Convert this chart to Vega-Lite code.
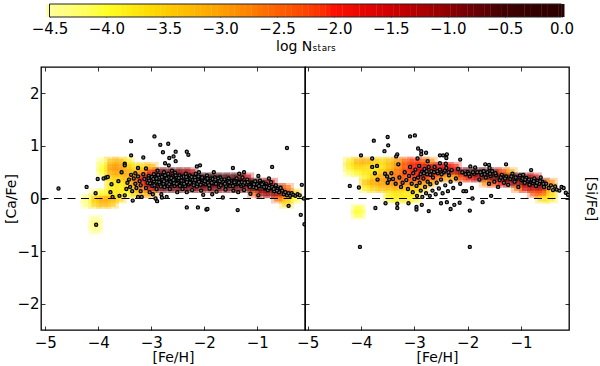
{"$schema":"https://vega.github.io/schema/vega-lite/v6.json","padding":{"left":4,"top":3,"right":0,"bottom":0},"autosize":{"type":"pad"},"background":"white","spacing":50,"bounds":"flush",
"config":{"font":"DejaVu Sans","view":{"stroke":"black","strokeWidth":1.3},"axis":{"grid":false,"domain":false,"labelFlush":false,"tickColor":"black","tickSize":-4,"tickWidth":0.8,"labelFont":"DejaVu Sans","labelFontSize":15,"labelColor":"black","titleFont":"DejaVu Sans","titleFontSize":14,"titleFontWeight":"normal","titleColor":"black"}},
"datasets":{
"bar":[{"logN":-4.5},{"logN":-4.45},{"logN":-4.4},{"logN":-4.35},{"logN":-4.3},{"logN":-4.25},{"logN":-4.2},{"logN":-4.15},{"logN":-4.1},{"logN":-4.05},{"logN":-4},{"logN":-3.95},{"logN":-3.9},{"logN":-3.85},{"logN":-3.8},{"logN":-3.75},{"logN":-3.7},{"logN":-3.65},{"logN":-3.6},{"logN":-3.55},{"logN":-3.5},{"logN":-3.45},{"logN":-3.4},{"logN":-3.35},{"logN":-3.3},{"logN":-3.25},{"logN":-3.2},{"logN":-3.15},{"logN":-3.1},{"logN":-3.05},{"logN":-3},{"logN":-2.95},{"logN":-2.9},{"logN":-2.85},{"logN":-2.8},{"logN":-2.75},{"logN":-2.7},{"logN":-2.65},{"logN":-2.6},{"logN":-2.55},{"logN":-2.5},{"logN":-2.45},{"logN":-2.4},{"logN":-2.35},{"logN":-2.3},{"logN":-2.25},{"logN":-2.2},{"logN":-2.15},{"logN":-2.1},{"logN":-2.05},{"logN":-2},{"logN":-1.95},{"logN":-1.9},{"logN":-1.85},{"logN":-1.8},{"logN":-1.75},{"logN":-1.7},{"logN":-1.65},{"logN":-1.6},{"logN":-1.55},{"logN":-1.5},{"logN":-1.45},{"logN":-1.4},{"logN":-1.35},{"logN":-1.3},{"logN":-1.25},{"logN":-1.2},{"logN":-1.15},{"logN":-1.1},{"logN":-1.05},{"logN":-1},{"logN":-0.95},{"logN":-0.9},{"logN":-0.85},{"logN":-0.8},{"logN":-0.75},{"logN":-0.7},{"logN":-0.65},{"logN":-0.6},{"logN":-0.55},{"logN":-0.5},{"logN":-0.45},{"logN":-0.4},{"logN":-0.35},{"logN":-0.3},{"logN":-0.25},{"logN":-0.2},{"logN":-0.15},{"logN":-0.1},{"logN":-0.05},{"logN":0}],
"barFrame":[{"lo":-4.5,"hi":0}],
"caCells":[{"feh":-4.2,"ab":0,"logN":-4.3},{"feh":-4.2,"ab":-0.1,"logN":-4.3},{"feh":-4.05,"ab":0,"logN":-3.4},{"feh":-4.05,"ab":-0.1,"logN":-3.5},{"feh":-4.05,"ab":0.1,"logN":-4.3},{"feh":-4.05,"ab":-0.5,"logN":-4.2},{"feh":-4.05,"ab":-0.6,"logN":-4.4},{"feh":-4.05,"ab":-0.4,"logN":-4.4},{"feh":-3.9,"ab":0,"logN":-3.0},{"feh":-3.9,"ab":-0.1,"logN":-3.2},{"feh":-3.9,"ab":0.1,"logN":-4},{"feh":-3.9,"ab":0.6,"logN":-4.0},{"feh":-3.9,"ab":0.5,"logN":-4.0},{"feh":-3.9,"ab":0.7,"logN":-4.3},{"feh":-3.75,"ab":0,"logN":-3.1},{"feh":-3.75,"ab":-0.1,"logN":-3.4},{"feh":-3.75,"ab":0.1,"logN":-3.8},{"feh":-3.75,"ab":0.2,"logN":-3.8},{"feh":-3.75,"ab":0.3,"logN":-3.8},{"feh":-3.75,"ab":0.4,"logN":-3.5},{"feh":-3.75,"ab":0.5,"logN":-3.1},{"feh":-3.75,"ab":0.6,"logN":-2.9},{"feh":-3.75,"ab":0.7,"logN":-3.3},{"feh":-3.6,"ab":0,"logN":-3.6},{"feh":-3.6,"ab":0.1,"logN":-3.7},{"feh":-3.6,"ab":0.2,"logN":-3.8},{"feh":-3.6,"ab":0.3,"logN":-3.8},{"feh":-3.6,"ab":0.4,"logN":-3.4},{"feh":-3.6,"ab":0.5,"logN":-3},{"feh":-3.6,"ab":0.6,"logN":-2.9},{"feh":-3.6,"ab":0.7,"logN":-3.2},{"feh":-3.45,"ab":0.1,"logN":-4},{"feh":-3.45,"ab":0.2,"logN":-3.7},{"feh":-3.45,"ab":0.3,"logN":-3.6},{"feh":-3.45,"ab":0.4,"logN":-3.2},{"feh":-3.45,"ab":0.5,"logN":-3.1},{"feh":-3.45,"ab":0.6,"logN":-3.3},{"feh":-3.45,"ab":0.7,"logN":-3.8},{"feh":-3.3,"ab":0.1,"logN":-3.5},{"feh":-3.3,"ab":0.2,"logN":-3.2},{"feh":-3.3,"ab":0.3,"logN":-2.8},{"feh":-3.3,"ab":0.4,"logN":-2.5},{"feh":-3.3,"ab":0.5,"logN":-3.2},{"feh":-3.3,"ab":0.6,"logN":-3.7},{"feh":-3.15,"ab":0.1,"logN":-3.2},{"feh":-3.15,"ab":0.2,"logN":-2.6},{"feh":-3.15,"ab":0.3,"logN":-1.8},{"feh":-3.15,"ab":0.4,"logN":-1.6},{"feh":-3.15,"ab":0.5,"logN":-2.8},{"feh":-3.15,"ab":0.6,"logN":-3.6},{"feh":-3.0,"ab":0.1,"logN":-3},{"feh":-3.0,"ab":0.2,"logN":-1.4},{"feh":-3.0,"ab":0.3,"logN":-0.7},{"feh":-3.0,"ab":0.4,"logN":-0.6},{"feh":-3.0,"ab":0.5,"logN":-1.8},{"feh":-3.0,"ab":0.6,"logN":-3.2},{"feh":-2.85,"ab":0.2,"logN":-0.8},{"feh":-2.85,"ab":0.3,"logN":-0.1},{"feh":-2.85,"ab":0.4,"logN":-0.1},{"feh":-2.85,"ab":0.5,"logN":-0.8},{"feh":-2.7,"ab":0.2,"logN":-0.8},{"feh":-2.7,"ab":0.3,"logN":-0.1},{"feh":-2.7,"ab":0.4,"logN":-0.1},{"feh":-2.7,"ab":0.5,"logN":-0.8},{"feh":-2.55,"ab":0.2,"logN":-0.8},{"feh":-2.55,"ab":0.3,"logN":-0.1},{"feh":-2.55,"ab":0.4,"logN":-0.1},{"feh":-2.55,"ab":0.5,"logN":-0.8},{"feh":-2.4,"ab":0.2,"logN":-0.8},{"feh":-2.4,"ab":0.3,"logN":-0.1},{"feh":-2.4,"ab":0.4,"logN":-0.1},{"feh":-2.4,"ab":0.5,"logN":-0.9},{"feh":-2.25,"ab":0.2,"logN":-0.8},{"feh":-2.25,"ab":0.3,"logN":-0.2},{"feh":-2.25,"ab":0.4,"logN":-0.2},{"feh":-2.25,"ab":0.5,"logN":-1.2},{"feh":-2.1,"ab":0.2,"logN":-0.9},{"feh":-2.1,"ab":0.3,"logN":-0.2},{"feh":-2.1,"ab":0.4,"logN":-0.3},{"feh":-1.95,"ab":0.2,"logN":-0.9},{"feh":-1.95,"ab":0.3,"logN":-0.2},{"feh":-1.95,"ab":0.4,"logN":-0.4},{"feh":-1.8,"ab":0.2,"logN":-0.9},{"feh":-1.8,"ab":0.3,"logN":-0.2},{"feh":-1.8,"ab":0.4,"logN":-0.4},{"feh":-1.65,"ab":0.2,"logN":-0.9},{"feh":-1.65,"ab":0.3,"logN":-0.2},{"feh":-1.65,"ab":0.4,"logN":-0.5},{"feh":-1.5,"ab":0.2,"logN":-0.8},{"feh":-1.5,"ab":0.3,"logN":-0.2},{"feh":-1.5,"ab":0.4,"logN":-0.6},{"feh":-1.35,"ab":0.2,"logN":-0.8},{"feh":-1.35,"ab":0.3,"logN":-0.2},{"feh":-1.35,"ab":0.4,"logN":-0.7},{"feh":-1.2,"ab":0.2,"logN":-0.9},{"feh":-1.2,"ab":0.3,"logN":-0.3},{"feh":-1.2,"ab":0.4,"logN":-1.4},{"feh":-1.05,"ab":0.1,"logN":-2.4},{"feh":-1.05,"ab":0.2,"logN":-0.5},{"feh":-1.05,"ab":0.3,"logN":-0.3},{"feh":-0.9,"ab":0.1,"logN":-1.2},{"feh":-0.9,"ab":0.2,"logN":-0.3},{"feh":-0.9,"ab":0.3,"logN":-0.6},{"feh":-0.75,"ab":0.1,"logN":-1},{"feh":-0.75,"ab":0.2,"logN":-0.3},{"feh":-0.75,"ab":0.3,"logN":-1.5},{"feh":-0.6,"ab":0,"logN":-2.5},{"feh":-0.6,"ab":0.1,"logN":-1},{"feh":-0.6,"ab":0.2,"logN":-0.8},{"feh":-0.45,"ab":-0.1,"logN":-3.6},{"feh":-0.45,"ab":0,"logN":-3.3},{"feh":-0.45,"ab":0.1,"logN":-1.8},{"feh":-0.45,"ab":0.2,"logN":-2.5},{"feh":-0.3,"ab":0,"logN":-4},{"feh":-0.3,"ab":0.1,"logN":-3.5}],
"siCells":[{"feh":-4.2,"ab":0.7,"logN":-3.8},{"feh":-4.2,"ab":0.6,"logN":-3.8},{"feh":-4.2,"ab":0.5,"logN":-4.2},{"feh":-4.05,"ab":0.7,"logN":-3.2},{"feh":-4.05,"ab":0.6,"logN":-3.5},{"feh":-4.05,"ab":0.5,"logN":-3.9},{"feh":-4.05,"ab":-0.2,"logN":-4.0},{"feh":-4.05,"ab":-0.3,"logN":-4.0},{"feh":-3.9,"ab":0.7,"logN":-3.1},{"feh":-3.9,"ab":0.6,"logN":-3.6},{"feh":-3.9,"ab":0.5,"logN":-3.7},{"feh":-3.9,"ab":0.4,"logN":-3.9},{"feh":-3.9,"ab":0.3,"logN":-3.3},{"feh":-3.9,"ab":0.2,"logN":-3.8},{"feh":-3.75,"ab":0.7,"logN":-3.4},{"feh":-3.75,"ab":0.6,"logN":-3.8},{"feh":-3.75,"ab":0.5,"logN":-3.7},{"feh":-3.75,"ab":0.4,"logN":-3.4},{"feh":-3.75,"ab":0.3,"logN":-3.0},{"feh":-3.75,"ab":0.2,"logN":-3.5},{"feh":-3.6,"ab":0.7,"logN":-3.6},{"feh":-3.6,"ab":0.6,"logN":-3.7},{"feh":-3.6,"ab":0.5,"logN":-3.4},{"feh":-3.6,"ab":0.4,"logN":-3.0},{"feh":-3.6,"ab":0.3,"logN":-2.9},{"feh":-3.6,"ab":0.2,"logN":-3.3},{"feh":-3.45,"ab":0.7,"logN":-3.3},{"feh":-3.45,"ab":0.6,"logN":-3.3},{"feh":-3.45,"ab":0.5,"logN":-3},{"feh":-3.45,"ab":0.4,"logN":-2.9},{"feh":-3.45,"ab":0.3,"logN":-2.8},{"feh":-3.45,"ab":0.2,"logN":-3.2},{"feh":-3.45,"ab":0.1,"logN":-3.8},{"feh":-3.45,"ab":0,"logN":-3.9},{"feh":-3.3,"ab":0.7,"logN":-2.9},{"feh":-3.3,"ab":0.6,"logN":-2.8},{"feh":-3.3,"ab":0.5,"logN":-2.6},{"feh":-3.3,"ab":0.4,"logN":-2.6},{"feh":-3.3,"ab":0.3,"logN":-2.6},{"feh":-3.3,"ab":0.2,"logN":-3.1},{"feh":-3.3,"ab":0.1,"logN":-3.7},{"feh":-3.3,"ab":0,"logN":-3.8},{"feh":-3.15,"ab":0.7,"logN":-2.4},{"feh":-3.15,"ab":0.6,"logN":-2.3},{"feh":-3.15,"ab":0.5,"logN":-2.2},{"feh":-3.15,"ab":0.4,"logN":-2.3},{"feh":-3.15,"ab":0.3,"logN":-2.6},{"feh":-3.15,"ab":0.2,"logN":-3.2},{"feh":-3.15,"ab":0.1,"logN":-3.8},{"feh":-3.15,"ab":0,"logN":-3.8},{"feh":-3.0,"ab":0.7,"logN":-2.1},{"feh":-3.0,"ab":0.6,"logN":-1.9},{"feh":-3.0,"ab":0.5,"logN":-2},{"feh":-3.0,"ab":0.4,"logN":-2.2},{"feh":-3.0,"ab":0.3,"logN":-2.6},{"feh":-3.0,"ab":0.2,"logN":-3.4},{"feh":-3.0,"ab":0.1,"logN":-3.7},{"feh":-3.0,"ab":0,"logN":-3.9},{"feh":-2.85,"ab":0.7,"logN":-2.3},{"feh":-2.85,"ab":0.6,"logN":-1.6},{"feh":-2.85,"ab":0.5,"logN":-1.5},{"feh":-2.85,"ab":0.4,"logN":-2},{"feh":-2.85,"ab":0.3,"logN":-2.8},{"feh":-2.85,"ab":0.2,"logN":-3.5},{"feh":-2.7,"ab":0.7,"logN":-2.8},{"feh":-2.7,"ab":0.6,"logN":-1.5},{"feh":-2.7,"ab":0.5,"logN":-1.2},{"feh":-2.7,"ab":0.4,"logN":-2.2},{"feh":-2.7,"ab":0.3,"logN":-3.2},{"feh":-2.55,"ab":0.6,"logN":-1.5},{"feh":-2.55,"ab":0.5,"logN":-1.2},{"feh":-2.55,"ab":0.4,"logN":-2.5},{"feh":-2.4,"ab":0.6,"logN":-1.6},{"feh":-2.4,"ab":0.5,"logN":-1.4},{"feh":-2.4,"ab":0.4,"logN":-3},{"feh":-2.25,"ab":0.6,"logN":-2},{"feh":-2.25,"ab":0.5,"logN":-1.3},{"feh":-2.25,"ab":0.4,"logN":-3.2},{"feh":-2.1,"ab":0.5,"logN":-0.8},{"feh":-2.1,"ab":0.4,"logN":-2.2},{"feh":-1.95,"ab":0.5,"logN":-0.4},{"feh":-1.95,"ab":0.4,"logN":-1.8},{"feh":-1.8,"ab":0.5,"logN":-0.3},{"feh":-1.8,"ab":0.4,"logN":-1.2},{"feh":-1.65,"ab":0.5,"logN":-0.5},{"feh":-1.65,"ab":0.4,"logN":-0.8},{"feh":-1.65,"ab":0.3,"logN":-2.8},{"feh":-1.5,"ab":0.5,"logN":-0.8},{"feh":-1.5,"ab":0.4,"logN":-0.6},{"feh":-1.5,"ab":0.3,"logN":-2.2},{"feh":-1.35,"ab":0.5,"logN":-2.2},{"feh":-1.35,"ab":0.4,"logN":-0.4},{"feh":-1.35,"ab":0.3,"logN":-1.8},{"feh":-1.2,"ab":0.5,"logN":-3},{"feh":-1.2,"ab":0.4,"logN":-0.4},{"feh":-1.2,"ab":0.3,"logN":-1},{"feh":-1.05,"ab":0.4,"logN":-0.5},{"feh":-1.05,"ab":0.3,"logN":-0.9},{"feh":-1.05,"ab":0.2,"logN":-2.6},{"feh":-0.9,"ab":0.4,"logN":-0.9},{"feh":-0.9,"ab":0.3,"logN":-0.5},{"feh":-0.9,"ab":0.2,"logN":-1.5},{"feh":-0.75,"ab":0.4,"logN":-1.5},{"feh":-0.75,"ab":0.3,"logN":-0.4},{"feh":-0.75,"ab":0.2,"logN":-1.2},{"feh":-0.75,"ab":0.1,"logN":-2.3},{"feh":-0.6,"ab":0.3,"logN":-0.8},{"feh":-0.6,"ab":0.2,"logN":-1.2},{"feh":-0.6,"ab":0.1,"logN":-2.3},{"feh":-0.6,"ab":0,"logN":-3.6},{"feh":-0.45,"ab":0.3,"logN":-2.8},{"feh":-0.45,"ab":0.2,"logN":-3},{"feh":-0.45,"ab":0.1,"logN":-3.5},{"feh":-0.45,"ab":0,"logN":-3.8}],
"caStars":[{"feh":-4.75,"ab":0.19},{"feh":-4.22,"ab":0.22},{"feh":-4.01,"ab":0.37},{"feh":-4.05,"ab":0.1},{"feh":-4.04,"ab":-0.5},{"feh":-3.9,"ab":0.38},{"feh":-3.85,"ab":0.4},{"feh":-3.82,"ab":0.41},{"feh":-3.77,"ab":0.12},{"feh":-3.75,"ab":0.27},{"feh":-3.73,"ab":0.03},{"feh":-3.6,"ab":0.05},{"feh":-3.62,"ab":0.33},{"feh":-3.5,"ab":0.06},{"feh":-3.56,"ab":0.5},{"feh":-3.5,"ab":0.66},{"feh":-3.5,"ab":0.63},{"feh":-3.38,"ab":1.09},{"feh":-3.38,"ab":0.82},{"feh":-3.15,"ab":0.78},{"feh":-3.25,"ab":0.58},{"feh":-3.1,"ab":0.57},{"feh":-2.94,"ab":1.18},{"feh":-2.83,"ab":1.02},{"feh":-2.68,"ab":1.04},{"feh":-2.78,"ab":0.88},{"feh":-2.66,"ab":0.77},{"feh":-2.58,"ab":0.8},{"feh":-2.54,"ab":0.89},{"feh":-2.74,"ab":0.67},{"feh":-2.67,"ab":0.63},{"feh":-2.54,"ab":0.71},{"feh":-2.33,"ab":0.89},{"feh":-2.3,"ab":0.83},{"feh":-2.14,"ab":0.61},{"feh":-2.08,"ab":0.63},{"feh":-1.82,"ab":0.5},{"feh":-1.46,"ab":0.58},{"feh":-1.34,"ab":0.47},{"feh":-1.25,"ab":0.5},{"feh":-0.98,"ab":0.43},{"feh":-0.78,"ab":0.38},{"feh":-0.72,"ab":0.6},{"feh":-0.44,"ab":0.96},{"feh":-0.16,"ab":0.26},{"feh":-0.18,"ab":-0.31},{"feh":-0.11,"ab":-0.49},{"feh":-0.41,"ab":-0.14},{"feh":-1.37,"ab":-0.22},{"feh":-1.96,"ab":-0.21},{"feh":-1.94,"ab":-0.2},{"feh":-2.12,"ab":-0.17},{"feh":-2.33,"ab":-0.17},{"feh":-2.89,"ab":-0.05},{"feh":-2.92,"ab":0},{"feh":-3.35,"ab":-0.04},{"feh":-3.42,"ab":0.36},{"feh":-3.45,"ab":0.3},{"feh":-3.4,"ab":0.22},{"feh":-3.47,"ab":0.18},{"feh":-3.36,"ab":0.14},{"feh":-3.38,"ab":0.45},{"feh":-3.3,"ab":0.48},{"feh":-3.3,"ab":0.28},{"feh":-3.28,"ab":0.2},{"feh":-3.33,"ab":0.38},{"feh":-3.25,"ab":0.42},{"feh":-3.22,"ab":0.33},{"feh":-3.2,"ab":0.25},{"feh":-3.2,"ab":0.14},{"feh":-3.25,"ab":0.03},{"feh":-3.18,"ab":0.03},{"feh":-3.15,"ab":0.46},{"feh":-3.13,"ab":0.37},{"feh":-3.1,"ab":0.2},{"feh":-3.07,"ab":0.3},{"feh":-3.05,"ab":0.43},{"feh":-3.03,"ab":0.12},{"feh":-3,"ab":0.34},{"feh":-2.98,"ab":0.24},{"feh":-2.97,"ab":0.08},{"feh":-2.95,"ab":0.46},{"feh":-2.93,"ab":0.4},{"feh":-2.92,"ab":0.3},{"feh":-2.9,"ab":0.18},{"feh":-2.88,"ab":0.53},{"feh":-2.86,"ab":0.36},{"feh":-2.84,"ab":0.27},{"feh":-2.83,"ab":0.44},{"feh":-2.81,"ab":0.08},{"feh":-2.8,"ab":0.02},{"feh":-2.78,"ab":0.33},{"feh":-2.76,"ab":0.5},{"feh":-2.75,"ab":0.22},{"feh":-2.73,"ab":0.4},{"feh":-2.71,"ab":0.03},{"feh":-2.7,"ab":0.3},{"feh":-2.68,"ab":0.47},{"feh":-2.66,"ab":0.37},{"feh":-2.65,"ab":0.18},{"feh":-2.63,"ab":0.28},{"feh":-2.61,"ab":0.53},{"feh":-2.6,"ab":0.42},{"feh":-2.58,"ab":0.32},{"feh":-2.56,"ab":0.24},{"feh":-2.55,"ab":0.49},{"feh":-2.53,"ab":0.38},{"feh":-2.51,"ab":0.12},{"feh":-2.5,"ab":0.3},{"feh":-2.47,"ab":0.44},{"feh":-2.45,"ab":0.35},{"feh":-2.43,"ab":0.27},{"feh":-2.41,"ab":0.18},{"feh":-2.39,"ab":0.42},{"feh":-2.37,"ab":0.32},{"feh":-2.35,"ab":0.47},{"feh":-2.33,"ab":0.12},{"feh":-2.31,"ab":0.38},{"feh":-2.29,"ab":0.27},{"feh":-2.27,"ab":0.44},{"feh":-2.25,"ab":0.33},{"feh":-2.23,"ab":0.16},{"feh":-2.21,"ab":0.4},{"feh":-2.19,"ab":0.3},{"feh":-2.16,"ab":0.47},{"feh":-2.14,"ab":0.23},{"feh":-2.12,"ab":0.36},{"feh":-2.1,"ab":0.5},{"feh":-2.08,"ab":0.41},{"feh":-2.06,"ab":0.15},{"feh":-2.04,"ab":0.31},{"feh":-2.02,"ab":0.07},{"feh":-2,"ab":0.38},{"feh":-1.98,"ab":0.27},{"feh":-1.95,"ab":0.44},{"feh":-1.92,"ab":0.33},{"feh":-1.9,"ab":0.19},{"feh":-1.87,"ab":0.38},{"feh":-1.85,"ab":0.08},{"feh":-1.83,"ab":0.29},{"feh":-1.8,"ab":0.4},{"feh":-1.77,"ab":0.13},{"feh":-1.75,"ab":0.34},{"feh":-1.72,"ab":0.22},{"feh":-1.7,"ab":0.4},{"feh":-1.67,"ab":0.3},{"feh":-1.65,"ab":0.02},{"feh":-1.62,"ab":0.36},{"feh":-1.6,"ab":0.17},{"feh":-1.57,"ab":0.28},{"feh":-1.54,"ab":0.38},{"feh":-1.51,"ab":0.24},{"feh":-1.48,"ab":0.33},{"feh":-1.45,"ab":0.15},{"feh":-1.42,"ab":0.28},{"feh":-1.39,"ab":0.38},{"feh":-1.36,"ab":0.12},{"feh":-1.33,"ab":0.32},{"feh":-1.3,"ab":0.24},{"feh":-1.28,"ab":0.4},{"feh":-1.25,"ab":0.16},{"feh":-1.22,"ab":0.3},{"feh":-1.19,"ab":0.36},{"feh":-1.16,"ab":0.25},{"feh":-1.13,"ab":0.09},{"feh":-1.1,"ab":0.3},{"feh":-1.07,"ab":0.22},{"feh":-1.04,"ab":0.33},{"feh":-1,"ab":0.27},{"feh":-0.98,"ab":0.06},{"feh":-0.95,"ab":0.34},{"feh":-0.92,"ab":0.24},{"feh":-0.89,"ab":0.3},{"feh":-0.86,"ab":0.2},{"feh":-0.83,"ab":0.27},{"feh":-0.8,"ab":0.16},{"feh":-0.77,"ab":0.24},{"feh":-0.74,"ab":0.31},{"feh":-0.71,"ab":0.2},{"feh":-0.68,"ab":0.14},{"feh":-0.65,"ab":0.25},{"feh":-0.62,"ab":0.18},{"feh":-0.59,"ab":0.12},{"feh":-0.56,"ab":0.2},{"feh":-0.53,"ab":0.15},{"feh":-0.5,"ab":0.08},{"feh":-0.47,"ab":0.12},{"feh":-0.44,"ab":0.06},{"feh":-0.41,"ab":0.1},{"feh":-0.38,"ab":0.05},{"feh":-0.35,"ab":0.1},{"feh":-0.32,"ab":0.07},{"feh":-0.28,"ab":0.05},{"feh":-0.24,"ab":0.08},{"feh":-0.2,"ab":0.06},{"feh":-0.12,"ab":0},{"feh":-3.05,"ab":0.38},{"feh":-2.95,"ab":0.33},{"feh":-2.85,"ab":0.4},{"feh":-2.72,"ab":0.35},{"feh":-2.62,"ab":0.33},{"feh":-2.52,"ab":0.41},{"feh":-2.42,"ab":0.3},{"feh":-2.32,"ab":0.35},{"feh":-2.22,"ab":0.36},{"feh":-2.13,"ab":0.28},{"feh":-2.03,"ab":0.35},{"feh":-1.93,"ab":0.3},{"feh":-1.82,"ab":0.33},{"feh":-1.68,"ab":0.36},{"feh":-1.58,"ab":0.32},{"feh":-1.44,"ab":0.34},{"feh":-1.32,"ab":0.28},{"feh":-1.2,"ab":0.28},{"feh":-1.08,"ab":0.28},{"feh":-0.93,"ab":0.28},{"feh":-0.85,"ab":0.24},{"feh":-0.75,"ab":0.2},{"feh":-3.02,"ab":0.29},{"feh":-2.99,"ab":0.41},{"feh":-2.94,"ab":0.25},{"feh":-2.89,"ab":0.32},{"feh":-2.87,"ab":0.45},{"feh":-2.82,"ab":0.23},{"feh":-2.79,"ab":0.37},{"feh":-2.77,"ab":0.28},{"feh":-2.74,"ab":0.44},{"feh":-2.69,"ab":0.24},{"feh":-2.67,"ab":0.4},{"feh":-2.64,"ab":0.31},{"feh":-2.59,"ab":0.37},{"feh":-2.57,"ab":0.29},{"feh":-2.54,"ab":0.44},{"feh":-2.49,"ab":0.36},{"feh":-2.46,"ab":0.24},{"feh":-2.44,"ab":0.4},{"feh":-2.4,"ab":0.33},{"feh":-2.36,"ab":0.24},{"feh":-2.34,"ab":0.41},{"feh":-2.28,"ab":0.32},{"feh":-2.26,"ab":0.38},{"feh":-2.2,"ab":0.25},{"feh":-2.18,"ab":0.4},{"feh":-2.15,"ab":0.33},{"feh":-2.11,"ab":0.42},{"feh":-2.07,"ab":0.26},{"feh":-2.05,"ab":0.38},{"feh":-2.01,"ab":0.3},{"feh":-1.97,"ab":0.36},{"feh":-1.91,"ab":0.25},{"feh":-1.88,"ab":0.33},{"feh":-1.84,"ab":0.37},{"feh":-1.78,"ab":0.28},{"feh":-1.74,"ab":0.38},{"feh":-1.69,"ab":0.25},{"feh":-1.64,"ab":0.31},{"feh":-1.59,"ab":0.24},{"feh":-1.55,"ab":0.33},{"feh":-1.5,"ab":0.29},{"feh":-1.46,"ab":0.24},{"feh":-1.41,"ab":0.33},{"feh":-1.37,"ab":0.28},{"feh":-1.29,"ab":0.31},{"feh":-1.26,"ab":0.26},{"feh":-1.18,"ab":0.31},{"feh":-1.14,"ab":0.22},{"feh":-1.06,"ab":0.27},{"feh":-1.02,"ab":0.2},{"feh":-0.97,"ab":0.24},{"feh":-0.91,"ab":0.27},{"feh":-0.87,"ab":0.22},{"feh":-0.82,"ab":0.22},{"feh":-0.78,"ab":0.2},{"feh":-0.72,"ab":0.22},{"feh":-0.69,"ab":0.18},{"feh":-0.63,"ab":0.15},{"feh":-3.04,"ab":0.34},{"feh":-2.96,"ab":0.37},{"feh":-2.9,"ab":0.38},{"feh":-2.85,"ab":0.31},{"feh":-2.8,"ab":0.41},{"feh":-2.76,"ab":0.33},{"feh":-2.71,"ab":0.38},{"feh":-2.66,"ab":0.27},{"feh":-2.62,"ab":0.39},{"feh":-2.58,"ab":0.35},{"feh":-2.52,"ab":0.28},{"feh":-2.48,"ab":0.39},{"feh":-2.43,"ab":0.34},{"feh":-2.38,"ab":0.28},{"feh":-2.33,"ab":0.31},{"feh":-2.27,"ab":0.3},{"feh":-2.24,"ab":0.41},{"feh":-2.17,"ab":0.35},{"feh":-2.1,"ab":0.32},{"feh":-2.04,"ab":0.4},{"feh":-1.99,"ab":0.33},{"feh":-1.94,"ab":0.38},{"feh":-1.86,"ab":0.3},{"feh":-1.79,"ab":0.36},{"feh":-1.71,"ab":0.33},{"feh":-1.61,"ab":0.28},{"feh":-1.53,"ab":0.31},{"feh":-1.43,"ab":0.31},{"feh":-1.35,"ab":0.3},{"feh":-1.24,"ab":0.3}],
"siStars":[{"feh":-4.21,"ab":0.24},{"feh":-4.04,"ab":0.21},{"feh":-4,"ab":0.82},{"feh":-3.76,"ab":1.1},{"feh":-3.79,"ab":0.76},{"feh":-3.5,"ab":1.17},{"feh":-3.49,"ab":1.01},{"feh":-3.56,"ab":0.9},{"feh":-3.32,"ab":0.84},{"feh":-3.34,"ab":0.8},{"feh":-3.08,"ab":1.18},{"feh":-2.99,"ab":1.2},{"feh":-2.93,"ab":0.95},{"feh":-2.87,"ab":0.9},{"feh":-2.87,"ab":0.84},{"feh":-2.78,"ab":0.87},{"feh":-2.94,"ab":0.76},{"feh":-2.52,"ab":0.82},{"feh":-2.46,"ab":0.82},{"feh":-2.39,"ab":0.84},{"feh":-2.4,"ab":0.77},{"feh":-2.52,"ab":0.67},{"feh":-2.41,"ab":0.66},{"feh":-2.75,"ab":0.71},{"feh":-2.14,"ab":0.74},{"feh":-1.95,"ab":0.61},{"feh":-1.86,"ab":0.59},{"feh":-1.67,"ab":0.65},{"feh":-1.6,"ab":0.64},{"feh":-1.59,"ab":0.58},{"feh":-1.28,"ab":0.65},{"feh":-0.81,"ab":0.54},{"feh":-4.02,"ab":-0.92},{"feh":-1.96,"ab":-0.92},{"feh":-3.73,"ab":-0.18},{"feh":-3.54,"ab":-0.09},{"feh":-3.32,"ab":-0.1},{"feh":-3.32,"ab":-0.18},{"feh":-3.11,"ab":-0.09},{"feh":-2.96,"ab":-0.16},{"feh":-2.96,"ab":-0.21},{"feh":-2.86,"ab":-0.12},{"feh":-2.73,"ab":-0.24},{"feh":-2.5,"ab":-0.09},{"feh":-2.39,"ab":-0.07},{"feh":-2.32,"ab":-0.2},{"feh":-2.25,"ab":-0.12},{"feh":-2.15,"ab":-0.08},{"feh":-1.96,"ab":-0.23},{"feh":-1.91,"ab":0},{"feh":-1.72,"ab":-0.07},{"feh":-1.56,"ab":0.05},{"feh":-2.03,"ab":0.14},{"feh":-3.79,"ab":0.6},{"feh":-3.74,"ab":0.48},{"feh":-3.7,"ab":0.62},{"feh":-3.69,"ab":0.36},{"feh":-3.55,"ab":0.47},{"feh":-3.51,"ab":0.42},{"feh":-3.47,"ab":0.36},{"feh":-3.5,"ab":0.3},{"feh":-3.43,"ab":0.48},{"feh":-3.4,"ab":0.37},{"feh":-3.35,"ab":0.28},{"feh":-3.3,"ab":0.65},{"feh":-3.28,"ab":0.4},{"feh":-3.25,"ab":0.22},{"feh":-3.22,"ab":0.3},{"feh":-3.18,"ab":0.5},{"feh":-3.15,"ab":0.35},{"feh":-3.12,"ab":0.18},{"feh":-3.1,"ab":0.43},{"feh":-3.08,"ab":0.6},{"feh":-3.05,"ab":0.28},{"feh":-3.03,"ab":0.12},{"feh":-3.02,"ab":0.48},{"feh":-3,"ab":0.37},{"feh":-2.98,"ab":0.55},{"feh":-2.96,"ab":0.24},{"feh":-2.95,"ab":0.05},{"feh":-2.93,"ab":0.4},{"feh":-2.91,"ab":0.62},{"feh":-2.9,"ab":0.3},{"feh":-2.88,"ab":0.15},{"feh":-2.86,"ab":0.5},{"feh":-2.85,"ab":0.03},{"feh":-2.83,"ab":0.38},{"feh":-2.81,"ab":0.56},{"feh":-2.8,"ab":0.22},{"feh":-2.78,"ab":0.1},{"feh":-2.76,"ab":0.46},{"feh":-2.75,"ab":0.32},{"feh":-2.73,"ab":0.6},{"feh":-2.71,"ab":0.05},{"feh":-2.7,"ab":0.27},{"feh":-2.68,"ab":0.52},{"feh":-2.66,"ab":0.15},{"feh":-2.65,"ab":0.4},{"feh":-2.62,"ab":0.6},{"feh":-2.6,"ab":0.08},{"feh":-2.58,"ab":0.3},{"feh":-2.56,"ab":0.48},{"feh":-2.54,"ab":0.19},{"feh":-2.52,"ab":0.55},{"feh":-2.5,"ab":0.36},{"feh":-2.47,"ab":0.1},{"feh":-2.45,"ab":0.5},{"feh":-2.42,"ab":0.25},{"feh":-2.4,"ab":0.58},{"feh":-2.37,"ab":0.14},{"feh":-2.35,"ab":0.44},{"feh":-2.32,"ab":0.32},{"feh":-2.3,"ab":0.54},{"feh":-2.27,"ab":0.2},{"feh":-2.22,"ab":0.38},{"feh":-2.18,"ab":0.56},{"feh":-2.14,"ab":0.28},{"feh":-2.1,"ab":0.5},{"feh":-2.08,"ab":0.14},{"feh":-2.04,"ab":0.46},{"feh":-2,"ab":0.5},{"feh":-1.96,"ab":0.42},{"feh":-1.92,"ab":0.2},{"feh":-1.88,"ab":0.47},{"feh":-1.82,"ab":0.5},{"feh":-1.78,"ab":0.36},{"feh":-1.74,"ab":0.45},{"feh":-1.7,"ab":0.52},{"feh":-1.66,"ab":0.4},{"feh":-1.63,"ab":0.5},{"feh":-1.6,"ab":0.28},{"feh":-1.57,"ab":0.43},{"feh":-1.54,"ab":0.52},{"feh":-1.5,"ab":0.32},{"feh":-1.47,"ab":0.44},{"feh":-1.43,"ab":0.22},{"feh":-1.4,"ab":0.35},{"feh":-1.36,"ab":0.45},{"feh":-1.32,"ab":0.3},{"feh":-1.28,"ab":0.42},{"feh":-1.24,"ab":0.26},{"feh":-1.2,"ab":0.37},{"feh":-1.16,"ab":0.47},{"feh":-1.12,"ab":0.32},{"feh":-1.08,"ab":0.38},{"feh":-1.05,"ab":0.22},{"feh":-1.02,"ab":0.44},{"feh":-0.99,"ab":0.35},{"feh":-0.96,"ab":0.45},{"feh":-0.93,"ab":0.3},{"feh":-0.9,"ab":0.39},{"feh":-0.87,"ab":0.33},{"feh":-0.84,"ab":0.26},{"feh":-0.81,"ab":0.36},{"feh":-0.78,"ab":0.3},{"feh":-0.75,"ab":0.38},{"feh":-0.72,"ab":0.24},{"feh":-0.69,"ab":0.34},{"feh":-0.66,"ab":0.28},{"feh":-0.63,"ab":0.4},{"feh":-0.6,"ab":0.32},{"feh":-0.57,"ab":0.22},{"feh":-0.53,"ab":0.28},{"feh":-0.48,"ab":0.2},{"feh":-0.44,"ab":0.25},{"feh":-0.4,"ab":0.16},{"feh":-0.36,"ab":0.23},{"feh":-0.33,"ab":0.17},{"feh":-0.28,"ab":0.15},{"feh":-0.24,"ab":0.22},{"feh":-0.2,"ab":0.2},{"feh":-0.16,"ab":0.11},{"feh":-0.12,"ab":0.07},{"feh":-2.88,"ab":0.46},{"feh":-2.82,"ab":0.48},{"feh":-2.77,"ab":0.52},{"feh":-2.7,"ab":0.45},{"feh":-2.63,"ab":0.5},{"feh":-2.57,"ab":0.52},{"feh":-2.49,"ab":0.46},{"feh":-2.43,"ab":0.53},{"feh":-2.36,"ab":0.5},{"feh":-1.98,"ab":0.47},{"feh":-1.9,"ab":0.5},{"feh":-1.76,"ab":0.5},{"feh":-1.68,"ab":0.46},{"feh":-1.58,"ab":0.47},{"feh":-1.48,"ab":0.48},{"feh":-1.38,"ab":0.4},{"feh":-1.3,"ab":0.38},{"feh":-1.18,"ab":0.42},{"feh":-1.1,"ab":0.4},{"feh":-0.97,"ab":0.38},{"feh":-0.92,"ab":0.36},{"feh":-0.85,"ab":0.36},{"feh":-0.76,"ab":0.33},{"feh":-0.7,"ab":0.3},{"feh":-0.64,"ab":0.33},{"feh":-0.58,"ab":0.28}],
"zeroLine":[{"ab":0}]},
"vconcat":[
{"width":528,"height":13,"view":{"stroke":null},"layer":[
{"data":{"name":"bar"},"mark":{"type":"rect","width":6},"encoding":{"x":{"field":"logN","type":"quantitative","scale":{"domain":[-4.5,0],"range":[8.5,520.5],"nice":false,"zero":false},"axis":{"values":[-4.5,-4,-3.5,-3,-2.5,-2,-1.5,-1,-0.5,0],"format":".1f","tickSize":-13,"tickColor":"#222222","labelPadding":17,"title":"log Nₛₜₐᵣₛ","titlePadding":3}},"color":{"field":"logN","type":"quantitative","scale":{"domain":[-4.5,-4,-3.5,-3,-2.5,-2,-1.5,-1,-0.5,0],"range":["#ffff99","#ffff22","#ffd000","#ffa000","#ff6000","#ff1000","#d00000","#900000","#400000","#000000"]},"legend":null}}},
{"data":{"name":"barFrame"},"mark":{"type":"rect","fill":null,"stroke":"#222222","strokeWidth":1},"encoding":{"x":{"field":"lo","type":"quantitative"},"x2":{"field":"hi"}}}]},
{"hconcat":[
{"width":264,"height":263,"resolve":{"axis":{"x":"independent","y":"independent"}},"layer":[
{"data":{"name":"caCells"},"mark":{"type":"rect","width":15,"height":10,"opacity":0.3},"encoding":{"x":{"field":"feh","type":"quantitative","scale":{"domain":[-5.08,-0.1],"nice":false,"zero":false},"axis":{"orient":"bottom","values":[-5,-4,-3,-2,-1],"title":"[Fe/H]","format":"d","labelPadding":9,"titlePadding":0}},"y":{"field":"ab","type":"quantitative","scale":{"domain":[-2.5,2.5],"nice":false,"zero":false},"axis":{"orient":"left","values":[-2,-1,0,1,2],"title":"[Ca/Fe]","format":"d","labelPadding":6,"titlePadding":-2}},"color":{"field":"logN","type":"quantitative","scale":{"domain":[-4.5,-4,-3.5,-3,-2.5,-2,-1.5,-1,-0.5,0],"range":["#ffff99","#ffff22","#ffd000","#ffa000","#ff6000","#ff1000","#d00000","#900000","#400000","#000000"]},"legend":null}}},
{"data":{"name":"caCells"},"mark":{"type":"rect","width":8.6,"height":6,"opacity":0.55},"encoding":{"x":{"field":"feh","type":"quantitative","axis":null},"y":{"field":"ab","type":"quantitative","axis":null},"color":{"field":"logN","type":"quantitative","legend":null}}},
{"data":{"name":"zeroLine"},"mark":{"type":"rule","color":"black","strokeDash":[8,5.5],"strokeWidth":1.2},"encoding":{"y":{"field":"ab","type":"quantitative","axis":null}}},
{"data":{"name":"caStars"},"mark":{"type":"point","shape":"circle","size":10,"filled":true,"fill":"#777777","stroke":"black","strokeWidth":1.2,"opacity":1,"clip":true},"encoding":{"x":{"field":"feh","type":"quantitative","axis":{"orient":"top","values":[-5,-4,-3,-2,-1],"labels":false,"title":null}},"y":{"field":"ab","type":"quantitative","axis":{"orient":"right","values":[-2,-1,0,1,2],"labels":false,"title":null}}}}]},
{"width":264,"height":263,"resolve":{"axis":{"x":"independent","y":"independent"}},"layer":[
{"data":{"name":"siCells"},"mark":{"type":"rect","width":15,"height":10,"opacity":0.3},"encoding":{"x":{"field":"feh","type":"quantitative","scale":{"domain":[-5.05,-0.1],"nice":false,"zero":false},"axis":{"orient":"bottom","values":[-5,-4,-3,-2,-1],"title":"[Fe/H]","format":"d","labelPadding":9,"titlePadding":0}},"y":{"field":"ab","type":"quantitative","scale":{"domain":[-2.5,2.5],"nice":false,"zero":false},"axis":{"orient":"left","values":[-2,-1,0,1,2],"labels":false,"title":null}},"color":{"field":"logN","type":"quantitative","scale":{"domain":[-4.5,-4,-3.5,-3,-2.5,-2,-1.5,-1,-0.5,0],"range":["#ffff99","#ffff22","#ffd000","#ffa000","#ff6000","#ff1000","#d00000","#900000","#400000","#000000"]},"legend":null}}},
{"data":{"name":"siCells"},"mark":{"type":"rect","width":8.6,"height":6,"opacity":0.55},"encoding":{"x":{"field":"feh","type":"quantitative","axis":null},"y":{"field":"ab","type":"quantitative","axis":null},"color":{"field":"logN","type":"quantitative","legend":null}}},
{"data":{"name":"zeroLine"},"mark":{"type":"rule","color":"black","strokeDash":[8,5.5],"strokeWidth":1.2},"encoding":{"y":{"field":"ab","type":"quantitative","axis":null}}},
{"data":{"name":"siStars"},"mark":{"type":"point","shape":"circle","size":10,"filled":true,"fill":"#777777","stroke":"black","strokeWidth":1.2,"opacity":1,"clip":true},"encoding":{"x":{"field":"feh","type":"quantitative","axis":{"orient":"top","values":[-5,-4,-3,-2,-1],"labels":false,"title":null}},"y":{"field":"ab","type":"quantitative","axis":{"orient":"right","values":[-2,-1,0,1,2],"labels":false,"title":"[Si/Fe]","titlePadding":14}}}}]}
],"spacing":0,"bounds":"flush"}
]}
